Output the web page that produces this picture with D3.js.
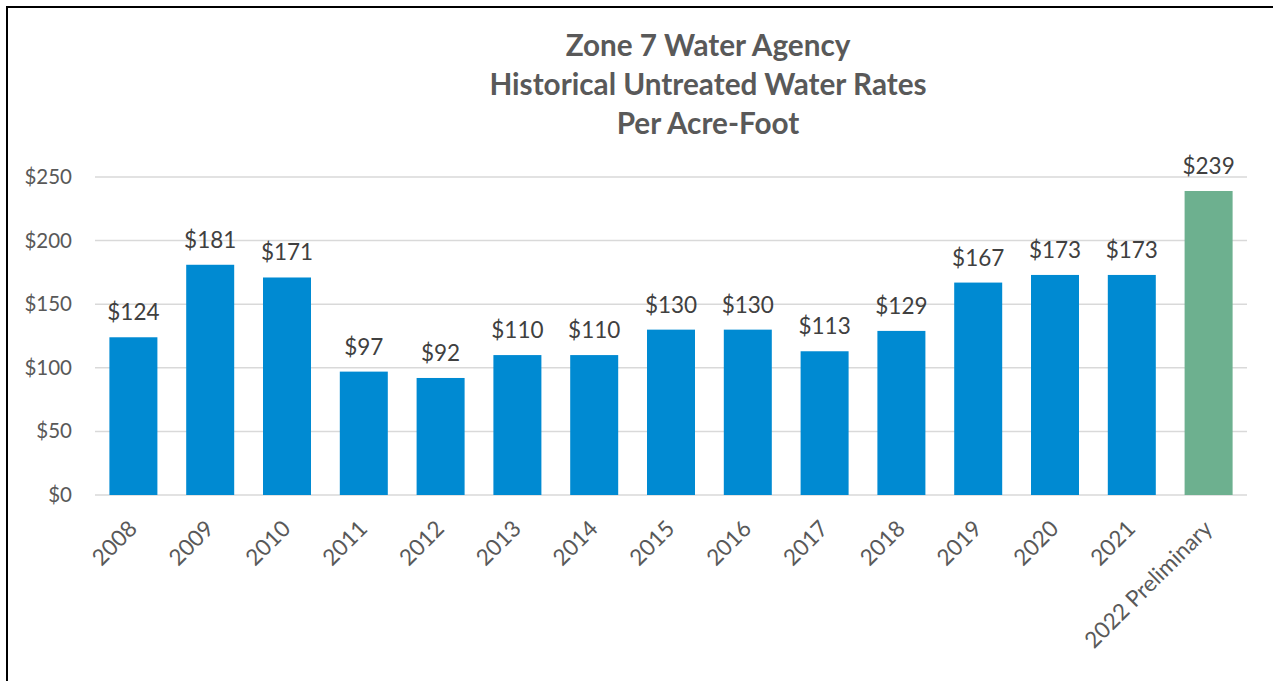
<!DOCTYPE html>
<html>
<head>
<meta charset="utf-8">
<script src="https://cdn.jsdelivr.net/npm/d3@7"></script>
<style>
  html, body { margin: 0; padding: 0; background: #fff; }
  svg { display: block; font-family: Lato, "Open Sans", sans-serif; }
</style>
</head>
<body>
<div id="chart"></div>
<script>
const WIDTH = 1273;
const HEIGHT = 681;

// data
const years = ["2008", "2009", "2010", "2011", "2012", "2013", "2014", "2015",
  "2016", "2017", "2018", "2019", "2020", "2021", "2022 Preliminary"];
const rates = [124, 181, 171, 97, 92, 110, 110, 130, 130, 113, 129, 167, 173, 173, 239];
const yTicks = [0, 50, 100, 150, 200, 250];
const titleLines = ["Zone 7 Water Agency", "Historical Untreated Water Rates", "Per Acre-Foot"];

const BLUE = "#008AD2";
const GREEN = "#6DB08F";
const TEXT = "#595959";

const margin = { left: 95, right: 26, top: 177, bottom: 186 };

const svg = d3.select("#chart").append("svg")
  .attr("width", WIDTH)
  .attr("height", HEIGHT);

// outer frame (left + top edges visible)
svg.append("line").attr("x1", 7).attr("x2", 7).attr("y1", 7).attr("y2", HEIGHT)
  .attr("stroke", "#000").attr("stroke-width", 2);
svg.append("line").attr("x1", 6).attr("x2", WIDTH).attr("y1", 7).attr("y2", 7)
  .attr("stroke", "#000").attr("stroke-width", 2);

const x = d3.scaleBand()
  .domain(years)
  .range([margin.left, WIDTH - margin.right])
  .paddingInner(0.375)
  .paddingOuter(0.1875);

const y = d3.scaleLinear()
  .domain([0, 250])
  .range([HEIGHT - margin.bottom, margin.top]);

// gridlines
svg.append("g")
  .selectAll("line")
  .data(yTicks)
  .join("line")
  .attr("x1", margin.left)
  .attr("x2", WIDTH - margin.right)
  .attr("y1", d => y(d))
  .attr("y2", d => y(d))
  .attr("stroke", "#d9d9d9")
  .attr("stroke-width", 1.5);

// y axis labels
const yAxis = svg.append("g")
  .attr("transform", `translate(${margin.left - 23},0)`)
  .call(d3.axisLeft(y).tickValues(yTicks).tickSize(0).tickFormat(d => "$" + d));
yAxis.select(".domain").remove();
yAxis.selectAll("text")
  .attr("x", 0)
  .attr("fill", TEXT)
  .style("font-size", "20.5px")
  .style("font-family", "Lato, sans-serif");

// bars
svg.append("g")
  .selectAll("rect")
  .data(years)
  .join("rect")
  .attr("x", d => x(d))
  .attr("width", x.bandwidth())
  .attr("y", (d, i) => y(rates[i]))
  .attr("height", (d, i) => y(0) - y(rates[i]))
  .attr("fill", (d, i) => i === years.length - 1 ? GREEN : BLUE);

// data labels
svg.append("g")
  .selectAll("text")
  .data(years)
  .join("text")
  .attr("x", d => x(d) + x.bandwidth() / 2)
  .attr("y", (d, i) => y(rates[i]) - 17)
  .attr("text-anchor", "middle")
  .attr("fill", "#404040")
  .style("font-size", "22.5px")
  .text((d, i) => "$" + rates[i]);

// x axis labels, rotated
const xAxis = svg.append("g")
  .attr("transform", `translate(0,${y(0)})`)
  .call(d3.axisBottom(x).tickSize(0));
xAxis.select(".domain").remove();
xAxis.selectAll("text")
  .attr("fill", TEXT)
  .style("font-size", "22.5px")
  .style("font-family", "Lato, sans-serif")
  .attr("text-anchor", "end")
  .attr("x", 0)
  .attr("y", 0)
  .attr("dy", 0)
  .attr("transform", "translate(5,35) rotate(-45)");

// title
const title = svg.append("g");
titleLines.forEach((t, i) => {
  title.append("text")
    .attr("x", 708)
    .attr("y", 56 + i * 39)
    .attr("text-anchor", "middle")
    .attr("fill", TEXT)
    .style("font-size", "24px")
    .style("font-weight", "bold")
    .text(t);
});
// fit title width to the reference (~437px for the long line)
const longest = title.selectAll("text").nodes()[1];
const w = longest.getComputedTextLength();
const fs = 24 * 437 / w;
title.selectAll("text").style("font-size", fs.toFixed(1) + "px");
</script>
</body>
</html>
